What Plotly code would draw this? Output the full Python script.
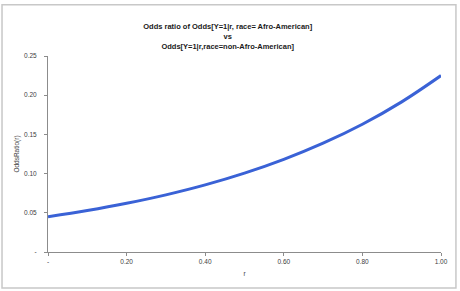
import plotly.graph_objects as go

r_vals = [0.0, 0.1, 0.2, 0.3, 0.4, 0.5, 0.6, 0.7, 0.8, 0.9, 1.0]
odds_ratio = [0.045, 0.0529, 0.0621, 0.0729, 0.0856, 0.1006, 0.1182, 0.1388, 0.1630, 0.1915, 0.225]

x_tickvals = [0.0, 0.2, 0.4, 0.6, 0.8, 1.0]
x_ticktext = ["-", "0.20", "0.40", "0.60", "0.80", "1.00"]
y_tickvals = [0.0, 0.05, 0.10, 0.15, 0.20, 0.25]
y_ticktext = ["-", "0.05", "0.10", "0.15", "0.20", "0.25"]

title_text = ("<b>Odds ratio of Odds[Y=1|r, race= Afro-American]<br>vs<br>"
              "Odds[Y=1|r,race=non-Afro-American]</b>")

font_family = "Liberation Sans, Arial, sans-serif"

fig = go.Figure()
fig.add_trace(go.Scatter(
    x=r_vals, y=odds_ratio, mode="lines",
    line=dict(color="#3a62d6", width=3, shape="spline"),
    hoverinfo="skip", showlegend=False,
))

fig.update_layout(
    width=460, height=291,
    margin=dict(l=48, r=19, t=56, b=39),
    paper_bgcolor="white", plot_bgcolor="white",
    font=dict(family=font_family, size=7, color="#404040"),
    title=dict(text=title_text, x=0.495, xref="container", xanchor="center",
               y=0.9, yref="container", yanchor="middle",
               font=dict(family=font_family, size=7.5, color="#1a1a1a")),
    xaxis=dict(range=[0, 1], tickvals=x_tickvals, ticktext=x_ticktext,
               showgrid=False, zeroline=False, showline=True, linecolor="#8c8c8c",
               linewidth=1, ticks="outside", ticklen=3, tickcolor="#8c8c8c",
               tickfont=dict(size=6.5), fixedrange=True,
               title=dict(text="r", font=dict(size=6.5), standoff=7)),
    yaxis=dict(range=[0, 0.25], tickvals=y_tickvals, ticktext=y_ticktext,
               showgrid=False, zeroline=False, showline=True, linecolor="#8c8c8c",
               linewidth=1, ticks="outside", ticklen=3, tickcolor="#8c8c8c",
               tickfont=dict(size=6.5), ticklabelstandoff=6, fixedrange=True,
               title=dict(text="OddsRatio(r)", font=dict(size=6.5), standoff=3)),
    shapes=[dict(type="rect", xref="paper", yref="paper",
                 x0=-0.117, x1=1.038, y0=-0.184, y1=1.262,
                 line=dict(color="#c8c8c8", width=1.5), fillcolor="rgba(0,0,0,0)",
                 layer="below")],
)

fig.write_html("out.html")
